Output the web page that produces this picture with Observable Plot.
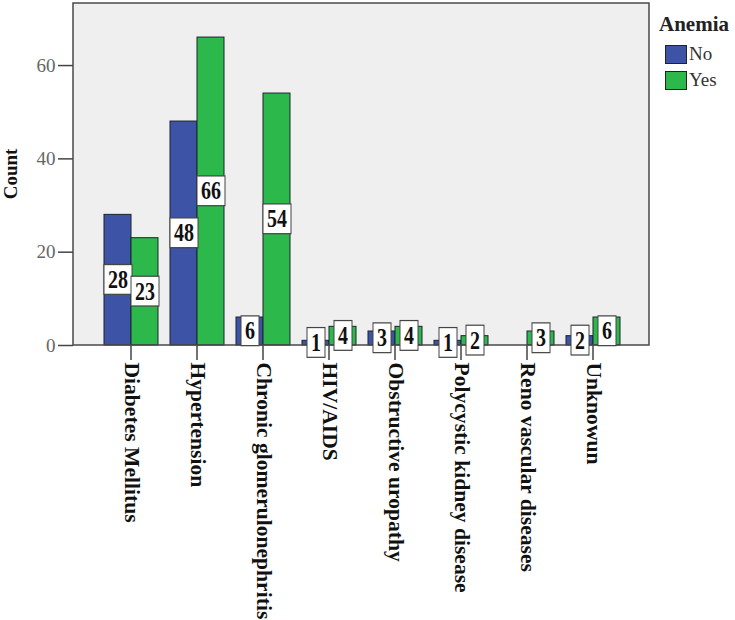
<!DOCTYPE html>
<html>
<head>
<meta charset="utf-8">
<script src="https://cdn.jsdelivr.net/npm/d3@7"></script>
<script src="https://cdn.jsdelivr.net/npm/@observablehq/plot@0.6"></script>
<style>
  html, body { margin: 0; padding: 0; background: #fff; }
  #wrap { position: relative; width: 735px; height: 620px; }
  #legend { position: absolute; left: 659px; top: 12px; font-family: "Liberation Serif", serif; }
  #legend .title { font-weight: bold; font-size: 21px; line-height: 24px; color: #222; margin-bottom: 5px; }
  #legend .item { display: flex; align-items: center; height: 26px; font-size: 19px; color: #333; }
  #legend .sw { width: 22px; height: 19px; border: 1px solid #222; margin: 0 2px 0 6px; box-sizing: border-box; }
</style>
</head>
<body>
<div id="wrap"></div>
<script>
const categories = ["Diabetes Mellitus", "Hypertension", "Chronic glomerulonephritis", "HIV/AIDS",
  "Obstructive uropathy", "Polycystic kidney disease", "Reno vascular diseases", "Unknowun"];
const groups = ["No", "Yes"];
const countNo  = [28, 48, 6, 1, 3, 1, 0, 2];
const countYes = [23, 66, 54, 4, 4, 2, 3, 6];
const yTicks = [0, 20, 40, 60];
const colors = ["#3c53a6", "#2db84b"];

const data = [];
categories.forEach((c, i) => {
  data.push({cause: c, anemia: "No", count: countNo[i]});
  data.push({cause: c, anemia: "Yes", count: countYes[i]});
});
const barData = data.filter(d => d.count > 0);

const W = 735, H = 620, ML = 73, MR = 86, MT = 3, MB = 275;

const plot = Plot.plot({
  width: W,
  height: H,
  marginLeft: ML,
  marginRight: MR,
  marginTop: MT,
  marginBottom: MB,
  style: {fontFamily: "Liberation Serif, serif", background: "transparent"},
  fx: {domain: categories, paddingInner: 0.167, paddingOuter: 0.447, label: null},
  x: {domain: groups, padding: 0, axis: null},
  y: {domain: [0, 73.3], ticks: yTicks, label: null},
  color: {domain: groups, range: colors},
  marks: [
    Plot.barY(barData, {fx: "cause", x: "anemia", y: "count", fill: "anemia", stroke: "#1c2230", strokeWidth: 1, inset: 0}),
    Plot.axisY({ticks: yTicks, tickSize: 15, tickPadding: 3, fontSize: 19, fill: "#666", stroke: "#444", label: null, strokeWidth: 1.5}),
    Plot.axisFx({anchor: "bottom", tickSize: 15, tickPadding: 2, tickRotate: 90, fontSize: 20, fontWeight: "bold", fill: "#111", stroke: "#444", label: null, strokeWidth: 1.5}),
    Plot.text(barData, {fx: "cause", x: "anemia", y: d => d.count / 2, text: d => String(d.count),
      fontSize: 20, fontWeight: "bold", fill: "#111", className: "vlabel"})
  ]
});

document.getElementById("wrap").appendChild(plot);
const svgNS = "http://www.w3.org/2000/svg";
const topLevel = el => { let n = el; while (n && n.parentNode !== plot) n = n.parentNode; return n; };

// shift the y axis from the first facet to the plot frame's left edge
const fx = plot.scale("fx");
const off = fx.apply(categories[0]) - fx.range[0];
plot.querySelectorAll('g[aria-label^="y-axis"]').forEach(g => {
  g.setAttribute("transform", `translate(${-off},0) ` + (g.getAttribute("transform") || ""));
});

// stretch the category labels along their text direction
plot.querySelectorAll('g[aria-label="fx-axis tick label"] text').forEach(t => {
  t.setAttribute("transform", (t.getAttribute("transform") || "") + " scale(1.08,1)");
});

// plot-area background and border
const bg = document.createElementNS(svgNS, "rect");
bg.setAttribute("x", ML); bg.setAttribute("y", MT);
bg.setAttribute("width", W - ML - MR); bg.setAttribute("height", H - MT - MB);
bg.setAttribute("fill", "#efefef");
plot.insertBefore(bg, topLevel(plot.querySelector('g[aria-label="bar"]')));
const border = bg.cloneNode();
border.setAttribute("fill", "none");
border.setAttribute("stroke", "#4a4a4a");
border.setAttribute("stroke-width", "1.5");

// white boxes behind value labels
plot.querySelectorAll("g.vlabel text").forEach(t => {
  const b = t.getBBox();
  const r = document.createElementNS(svgNS, "rect");
  const padX = 4, padY = 1.2;
  r.setAttribute("x", b.x - padX);
  r.setAttribute("y", b.y - padY);
  r.setAttribute("width", b.width + 2 * padX);
  r.setAttribute("height", b.height + 2 * padY);
  r.setAttribute("fill", "#fff");
  r.setAttribute("stroke", "#444");
  r.setAttribute("stroke-width", "1");
  const tr = (t.getAttribute("transform") || "") + " scale(1,1.22)";
  r.setAttribute("transform", tr);
  t.setAttribute("transform", tr);
  t.parentNode.insertBefore(r, t);
});
// border drawn above bars but below labels
plot.insertBefore(border, topLevel(plot.querySelector("g.vlabel")));

// y-axis title
const title = document.createElementNS(svgNS, "text");
title.setAttribute("transform", "translate(17,174) rotate(-90)");
title.setAttribute("text-anchor", "middle");
title.setAttribute("font-size", "19");
title.setAttribute("font-weight", "bold");
title.setAttribute("fill", "#111");
title.textContent = "Count";
plot.appendChild(title);

// legend
const leg = document.createElement("div");
leg.id = "legend";
leg.innerHTML = `<div class="title">Anemia</div>` + groups.map((g, i) =>
  `<div class="item"><span class="sw" style="background:${colors[i]}"></span>${g}</div>`).join("");
document.getElementById("wrap").appendChild(leg);
</script>
</body>
</html>
